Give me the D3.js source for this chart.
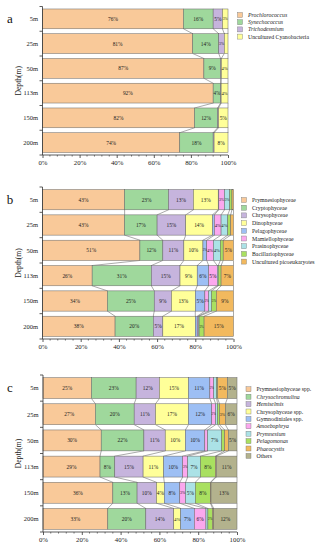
<!DOCTYPE html>
<html>
<head>
<meta charset="utf-8">
<script src="https://cdn.jsdelivr.net/npm/d3@7"></script>
<style>
  html, body { margin: 0; padding: 0; background: #fff; }
  svg { display: block; font-family: "Liberation Serif", "DejaVu Serif", serif; }
</style>
</head>
<body>
<svg id="chart" width="322" height="550"></svg>
<script>
// ---- data (percent of reads, one row per depth) ----
const depths = ['5m', '25m', '50m', '113m', '150m', '200m'];

const cyanoGroups = ['Prochlorococcus', 'Synechococcus', 'Trichodesmium', 'Uncultured Cyanobacteria'];
const cyanoItalic = [true, true, true, false];
const cyanoValues = [
  [76, 16, 5, 3],
  [81, 14, 3, 2],
  [87, 9, 0.4, 3.6],
  [92, 4, 0.3, 3.7],
  [82, 12.4, 0.5, 5.1],
  [74, 18, 0.5, 7.5]
];

const euGroups = ['Prymnesiophyceae', 'Cryptophyceae', 'Chrysophyceae', 'Dinophyceae', 'Pelagophyceae',
  'Mamiellophyceae', 'Prasinophyceae', 'Bacillariophyceae', 'Uncultured picoeukaryotes'];
const euItalic = euGroups.map(() => false);
const euValues = [
  [43, 23, 13, 13, 0.3, 3, 2.7, 1.2, 0.8],
  [43, 17, 15, 14, 1, 3.5, 3.5, 1.5, 1.5],
  [51, 12, 11, 10, 2, 3.5, 3.6, 1.5, 5.4],
  [26, 31, 15, 9, 6, 4.5, 0.5, 1.5, 6.5],
  [34, 24.5, 9, 12.5, 5, 2, 1.5, 2.5, 9],
  [38, 20, 5, 17, 1, 0.5, 0.5, 2.6, 15.4]
];

const genusGroups = ['Prymnesiophyceae spp.', 'Chrysochromulina', 'Hemiselmis', 'Chrysophyceae spp.',
  'Gymnodiniales spp.', 'Amoebophrya', 'Prymnesium', 'Pelagomonas', 'Phaeocystis', 'Others'];
const genusItalic = [false, true, true, false, false, true, true, true, true, false];
const genusValues = [
  [25, 23, 12, 15, 11, 2, 1.5, 0.5, 5, 5],
  [27, 20, 11, 17, 12, 2, 1, 1, 3, 6],
  [30, 22, 11, 10.4, 10, 1.5, 7.2, 1.5, 1.9, 4.5],
  [29.4, 7.6, 14.6, 10.6, 9.8, 2.6, 6.5, 7.8, 0.4, 10.7],
  [36, 12.5, 10, 4, 8, 3, 5, 7.8, 0.3, 13.4],
  [33.4, 19.6, 14.4, 3.6, 7, 6, 1, 2.4, 0.6, 12]
];

const xTicks = [0, 20, 40, 60, 80, 100];

// ---- styles / layout ----
const palette = ['#f9c999', '#9fd89c', '#c6b4dd', '#ffff99', '#9dbff4',
  '#fba8ee', '#abe2e6', '#a9e060', '#f2b95e', '#b3b28d'];

const panels = [
  { letter: 'a', groups: cyanoGroups, italic: cyanoItalic, values: cyanoValues,
    x0: 42.5, x1: 228, top: 6.5, bottom: 155, legX: 237.5, legY: 12.5, legStep: 7.2, minLabel: 3 },
  { letter: 'b', groups: euGroups, italic: euItalic, values: euValues,
    x0: 42.5, x1: 233.5, top: 187, bottom: 339, legX: 241.5, legY: 197.5, legStep: 7.7, minLabel: 2 },
  { letter: 'c', groups: genusGroups, italic: genusItalic, values: genusValues,
    x0: 43, x1: 237, top: 375, bottom: 532, legX: 246, legY: 386.8, legStep: 7.4, minLabel: 2 }
];

const svg = d3.select('#chart');

panels.forEach(p => drawPanel(p));

function drawPanel(p) {
  const g = svg.append('g');

  const x = d3.scaleLinear().domain([0, 100]).range([p.x0, p.x1]);
  const y = d3.scaleBand().domain(depths).range([p.top, p.bottom])
    .paddingInner(0.2).paddingOuter(0.1);
  const bh = y.bandwidth();

  // stacked segments per depth
  const rows = p.values.map((vals, i) => {
    let acc = 0;
    return vals.map((v, k) => {
      const seg = { depth: depths[i], k: k, v: v, x0: acc, x1: acc + v };
      acc += v;
      return seg;
    });
  });

  // connecting lines between neighbouring bars
  const links = [];
  for (let i = 0; i < rows.length - 1; i++) {
    rows[i].forEach((seg, k) => {
      links.push({ a: seg.x1, b: rows[i + 1][k].x1, d0: depths[i], d1: depths[i + 1] });
    });
  }
  g.append('g').selectAll('line')
    .data(links)
    .enter()
    .append('line')
    .attr('x1', d => x(d.a))
    .attr('y1', d => y(d.d0) + bh)
    .attr('x2', d => x(d.b))
    .attr('y2', d => y(d.d1))
    .attr('stroke', '#555')
    .attr('stroke-width', 0.5);

  const segs = rows.flat();
  g.append('g').selectAll('rect')
    .data(segs)
    .enter()
    .append('rect')
    .attr('x', d => x(d.x0))
    .attr('y', d => y(d.depth))
    .attr('width', d => Math.max(0, x(d.x1) - x(d.x0)))
    .attr('height', bh)
    .attr('fill', d => palette[d.k])
    .attr('stroke', '#666')
    .attr('stroke-width', 0.5);

  // value labels; narrow segments get a smaller font so neighbours do not collide
  const labelSize = d => {
    const w = x(d.x1) - x(d.x0);
    return Math.max(3.2, Math.min(5.4, (w - 0.5) / 1.35));
  };
  g.append('g').selectAll('text')
    .data(segs.filter(d => d.v >= p.minLabel))
    .enter()
    .append('text')
    .attr('x', d => x((d.x0 + d.x1) / 2))
    .attr('y', d => y(d.depth) + bh / 2 + labelSize(d) * 0.36)
    .attr('text-anchor', 'middle')
    .attr('font-size', labelSize)
    .attr('fill', '#222')
    .text(d => Math.round(d.v) + '%');

  // y axis
  const yEdges = depths.map(d => y(d) - y.step() * y.paddingInner() / 2);
  yEdges[0] = p.top;
  yEdges.push(p.bottom);
  g.append('line')
    .attr('x1', p.x0).attr('x2', p.x0)
    .attr('y1', p.top).attr('y2', p.bottom)
    .attr('stroke', '#333').attr('stroke-width', 0.8);
  g.append('g').selectAll('line')
    .data(yEdges)
    .enter()
    .append('line')
    .attr('x1', p.x0 - 3).attr('x2', p.x0)
    .attr('y1', d => d).attr('y2', d => d)
    .attr('stroke', '#333').attr('stroke-width', 0.8);
  g.append('g').selectAll('text')
    .data(depths)
    .enter()
    .append('text')
    .attr('x', p.x0 - 4.5)
    .attr('y', d => y(d) + bh / 2 + 2.3)
    .attr('text-anchor', 'end')
    .attr('font-size', 6.5)
    .attr('fill', '#222')
    .text(d => d);

  // x axis
  const xAxis = d3.axisBottom(x)
    .tickValues(xTicks)
    .tickFormat(d => d + '%')
    .tickSize(3)
    .tickPadding(2.5);
  const ax = g.append('g')
    .attr('transform', `translate(0,${p.bottom})`)
    .call(xAxis);
  ax.select('.domain').attr('stroke', '#333').attr('stroke-width', 0.8)
    .attr('d', `M${p.x0},0H${p.x1}`);
  ax.selectAll('.tick line').attr('stroke', '#333').attr('stroke-width', 0.8);
  ax.selectAll('.tick text')
    .attr('font-family', '"Liberation Serif", serif')
    .attr('font-size', 6.8)
    .attr('fill', '#222');
  g.append('g').selectAll('line')
    .data(d3.range(0, 101, 4).filter(v => v % 20 !== 0))
    .enter()
    .append('line')
    .attr('x1', d => x(d)).attr('x2', d => x(d))
    .attr('y1', p.bottom).attr('y2', p.bottom + 1.6)
    .attr('stroke', '#333').attr('stroke-width', 0.6);

  // axis title + panel letter
  g.append('text')
    .attr('transform', `translate(21,${(p.top + p.bottom) / 2}) rotate(-90)`)
    .attr('text-anchor', 'middle')
    .attr('font-size', 7.6)
    .attr('fill', '#222')
    .text('Depth(m)');
  g.append('text')
    .attr('x', 10)
    .attr('y', y(depths[0]) + bh / 2 + 4)
    .attr('text-anchor', 'middle')
    .attr('font-size', 13)
    .attr('fill', '#111')
    .text(p.letter);

  // legend
  const leg = g.append('g').selectAll('g')
    .data(p.groups)
    .enter()
    .append('g')
    .attr('transform', (d, i) => `translate(${p.legX},${p.legY + i * p.legStep})`);
  leg.append('rect')
    .attr('width', 5).attr('height', 5)
    .attr('fill', (d, i) => palette[i])
    .attr('stroke', '#777')
    .attr('stroke-width', 0.4);
  leg.append('text')
    .attr('x', 10.5)
    .attr('y', 4.5)
    .attr('font-size', 5.8)
    .attr('fill', '#222')
    .attr('font-style', (d, i) => p.italic[i] ? 'italic' : 'normal')
    .text(d => d);
}
</script>
</body>
</html>
